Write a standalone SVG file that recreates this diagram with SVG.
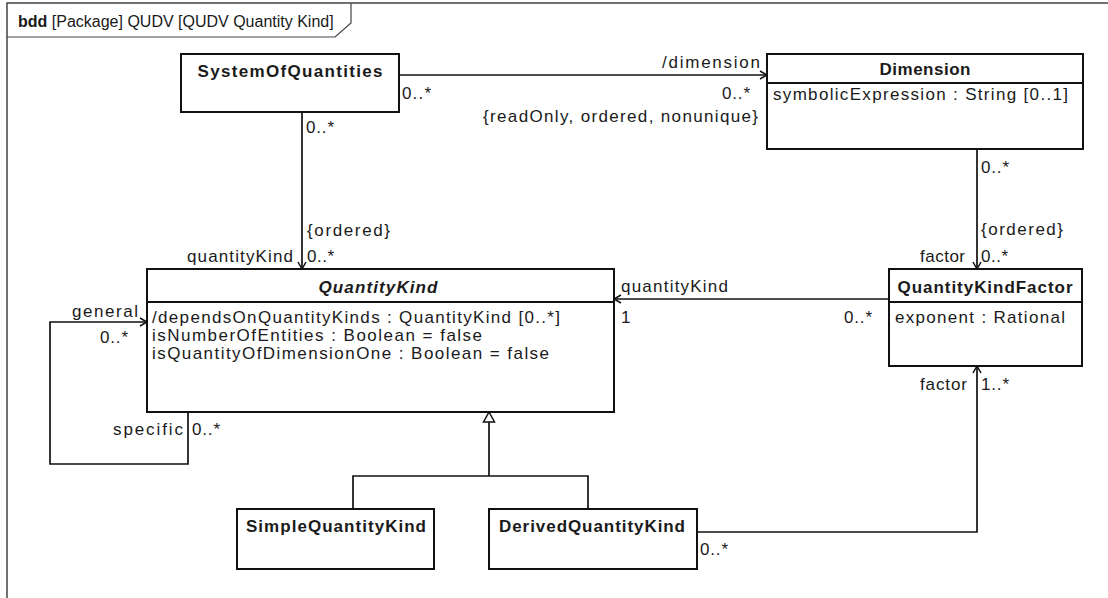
<svg xmlns="http://www.w3.org/2000/svg" width="1108" height="598" viewBox="0 0 1108 598">
<style>
text{font-family:"Liberation Sans",Arial,sans-serif;fill:#1a1a1a}
.t{font-size:17px}
.b{font-size:17px;font-weight:bold}
.bi{font-size:17px;font-weight:bold;font-style:italic}
.box{fill:#fff;stroke:#111;stroke-width:2}
.sep{stroke:#111;stroke-width:2}
.c{fill:none;stroke:#111;stroke-width:1.7}
</style>
<defs>
<marker id="open" markerUnits="userSpaceOnUse" markerWidth="12" markerHeight="12" refX="8" refY="5" orient="auto" overflow="visible">
<path d="M1,1 L8,5 L1,9" fill="none" stroke="#111" stroke-width="1.5"/>
</marker>
<marker id="gen" markerUnits="userSpaceOnUse" markerWidth="14" markerHeight="14" refX="11" refY="6" orient="auto" overflow="visible">
<path d="M1,0.5 L11,6 L1,11.5 Z" fill="#fff" stroke="#111" stroke-width="1.5"/>
</marker>
</defs>
<rect width="1108" height="598" fill="#fff"/>
<g id="frame">
<path d="M7,598 V3 H1108" fill="none" stroke="#444" stroke-width="1.5"/>
<path d="M7,37 H335 L351,23 V3" fill="none" stroke="#444" stroke-width="1.2"/>
<text x="18" y="27" style="font-size:16px"><tspan font-weight="bold">bdd</tspan> [Package] QUDV [QUDV Quantity Kind]</text>
</g>
<g id="connectors">
<path class="c" d="M399,75 H767" marker-end="url(#open)"/>
<path class="c" d="M302,112 V269" marker-end="url(#open)"/>
<path class="c" d="M977,149 V269" marker-end="url(#open)"/>
<path class="c" d="M889,299 H614" marker-end="url(#open)"/>
<path class="c" d="M188,412 V464 H50 V322 H147" marker-end="url(#open)"/>
<path class="c" d="M697,532 H977 V366" marker-end="url(#open)"/>
<path class="c" d="M353,509 V476 H588 V509"/>
<path class="c" d="M489,476 V412" marker-end="url(#gen)"/>
<text class="t" x="402" y="99" textLength="29">0..*</text>
<text class="t" x="760" y="68" text-anchor="end" textLength="98">/dimension</text>
<text class="t" x="750" y="99" text-anchor="end" textLength="28">0..*</text>
<text class="t" x="758" y="122" text-anchor="end" textLength="275">{readOnly, ordered, nonunique}</text>
<text class="t" x="306" y="133" textLength="28">0..*</text>
<text class="t" x="307" y="236" textLength="83">{ordered}</text>
<text class="t" x="293" y="262" text-anchor="end" textLength="106">quantityKind</text>
<text class="t" x="307" y="262" textLength="27">0..*</text>
<text class="t" x="981" y="173" textLength="28">0..*</text>
<text class="t" x="981" y="235" textLength="82">{ordered}</text>
<text class="t" x="965" y="262" text-anchor="end" textLength="45">factor</text>
<text class="t" x="981" y="262" textLength="27">0..*</text>
<text class="t" x="621" y="292" textLength="107">quantityKind</text>
<text class="t" x="621" y="323">1</text>
<text class="t" x="872" y="323" text-anchor="end" textLength="28">0..*</text>
<text class="t" x="138" y="317" text-anchor="end" textLength="66">general</text>
<text class="t" x="128" y="343" text-anchor="end" textLength="28">0..*</text>
<text class="t" x="183" y="435" text-anchor="end" textLength="70">specific</text>
<text class="t" x="192" y="435" textLength="28">0..*</text>
<text class="t" x="967" y="390" text-anchor="end" textLength="47">factor</text>
<text class="t" x="981" y="390" textLength="28">1..*</text>
<text class="t" x="700" y="555" textLength="28">0..*</text>
</g>
<g id="SystemOfQuantities">
<rect class="box" x="181" y="54" width="218" height="58"/>
<text class="b" x="290" y="77" text-anchor="middle" textLength="185">SystemOfQuantities</text>
</g>
<g id="Dimension">
<rect class="box" x="767" y="54" width="316" height="95"/>
<line class="sep" x1="767" y1="83" x2="1083" y2="83"/>
<text class="b" x="925" y="75" text-anchor="middle" textLength="91">Dimension</text>
<text class="t" x="773" y="100" textLength="295">symbolicExpression : String [0..1]</text>
</g>
<g id="QuantityKind">
<rect class="box" x="147" y="269" width="467" height="143"/>
<line class="sep" x1="147" y1="302" x2="614" y2="302"/>
<text class="bi" x="378" y="293" text-anchor="middle" textLength="119">QuantityKind</text>
<text class="t" x="152" y="323" textLength="408">/dependsOnQuantityKinds : QuantityKind [0..*]</text>
<text class="t" x="152" y="341" textLength="330">isNumberOfEntities : Boolean = false</text>
<text class="t" x="152" y="359" textLength="397">isQuantityOfDimensionOne : Boolean = false</text>
</g>
<g id="QuantityKindFactor">
<rect class="box" x="889" y="269" width="193" height="97"/>
<line class="sep" x1="889" y1="302" x2="1082" y2="302"/>
<text class="b" x="985" y="293" text-anchor="middle" textLength="175">QuantityKindFactor</text>
<text class="t" x="895" y="323" textLength="170">exponent : Rational</text>
</g>
<g id="SimpleQuantityKind">
<rect class="box" x="237" y="509" width="197" height="60"/>
<text class="b" x="336" y="532" text-anchor="middle" textLength="180">SimpleQuantityKind</text>
</g>
<g id="DerivedQuantityKind">
<rect class="box" x="489" y="509" width="208" height="60"/>
<text class="b" x="592" y="532" text-anchor="middle" textLength="186">DerivedQuantityKind</text>
</g>
</svg>
